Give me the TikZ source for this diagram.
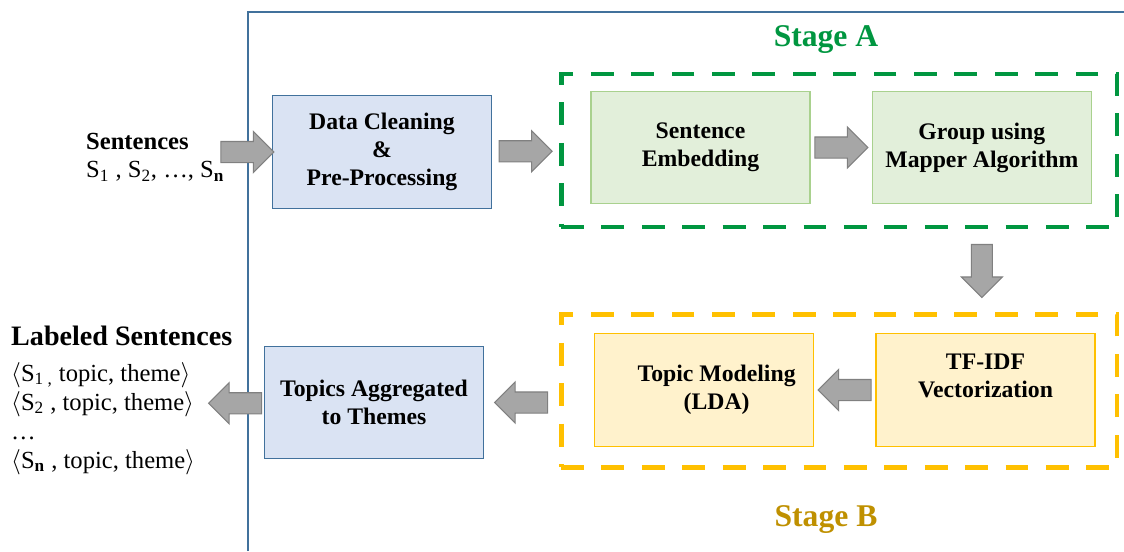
\documentclass[tikz,border=0pt]{standalone}
\usepackage{fontspec}
\setmainfont{Liberation Serif}
\usepackage{tikz}
\usetikzlibrary{shapes.arrows,positioning,calc}
\definecolor{framecolor}{RGB}{65,113,156}
\definecolor{cleanfill}{RGB}{218,227,243}
\definecolor{stageAcolor}{RGB}{0,150,64}
\definecolor{stageAfill}{RGB}{226,239,218}
\definecolor{stageAdraw}{RGB}{169,209,142}
\definecolor{stageBcolor}{RGB}{255,192,0}
\definecolor{stageBfill}{RGB}{255,242,204}
\definecolor{stageBtext}{RGB}{191,144,0}
\definecolor{arrowfill}{RGB}{166,166,166}
\definecolor{arrowdraw}{RGB}{128,128,128}

\begin{document}
\begin{tikzpicture}[
        x=0.02cm, y=-0.02cm,
        box/.style={rectangle, minimum width=4.38cm, minimum height=2.25cm, align=center, font=\fontsize{13.5}{16}\selectfont\bfseries, line width=0.8pt},
        bluebox/.style={box, draw=framecolor, fill=cleanfill},
        greenbox/.style={box, draw=stageAdraw, fill=stageAfill},
        yellowbox/.style={box, draw=stageBcolor, fill=stageBfill},
        stagebox/.style={rectangle, minimum width=11.12cm, minimum height=3.06cm, line width=2.8pt, dash pattern=on 13pt off 10pt},
        stagelabel/.style={font=\fontsize{18}{20}\selectfont\bfseries},
        bigarrow/.style={single arrow, draw=arrowdraw, fill=arrowfill, line width=0.6pt, inner sep=0.2cm, minimum height=1.06cm, minimum width=0.8cm, single arrow head extend=0.2cm},
        toright/.style={bigarrow, xshift=-0.1cm},
        toleft/.style={bigarrow, shape border rotate=180, xshift=0.1cm},
        todown/.style={bigarrow, shape border rotate=270, yshift=0.1cm}
    ]
        \useasboundingbox (0,0) rectangle (1124,551);
        \draw[framecolor, line width=1.2pt] (248,551) |- (1124,12);

        \node[anchor=west, align=left, font=\fontsize{14}{16}\selectfont] (sent) at (80,157)
            {\textbf{Sentences}\\ S\textsubscript{1} , S\textsubscript{2}, \ldots, S\textsubscript{\textbf{n}}};
        \node[bluebox] (clean) at (382,152) {Data Cleaning\\ \&\\ Pre-Processing};

        \node[greenbox] (embed) at (700.5,147.5) {Sentence\\ Embedding};
        \node[greenbox, right=1.22cm of embed] (group) {Group using\\ Mapper Algorithm};
        \node[stagebox, draw=stageAcolor] (stageA) at (839,150.5) {};
        \node[stagelabel, stageAcolor] at (stageA.north) [xshift=-0.26cm, yshift=0.64cm] {Stage A};

        \node[yellowbox] (tfidf) at (985.5,390) {TF-IDF\\ Vectorization\\ \mbox{}};
        \node[yellowbox, left=1.22cm of tfidf] (topic) {\hspace*{0.5cm}Topic Modeling\\ \hspace*{0.5cm}(LDA)};
        \node[stagebox, draw=stageBcolor] (stageB) at (839,391) {};
        \node[stagelabel, stageBtext] at (stageB.south) [xshift=-0.26cm, yshift=-1cm] {Stage B};

        \node[bluebox] (agg) at (374,402.5) {Topics Aggregated\\ to Themes};
        \node[anchor=west, align=left, font=\fontsize{14}{16.5}\selectfont] (labeled) at (5,400)
            {{\fontsize{16}{18}\selectfont\bfseries Labeled Sentences}\\[4pt]
             $\langle$S\textsubscript{1 ,} topic, theme$\rangle$\\
             $\langle$S\textsubscript{2} , topic, theme$\rangle$\\
             \ldots\\
             $\langle$S\textsubscript{\textbf{n}} , topic, theme$\rangle$};
        \coordinate (out) at (207,404);

        % block arrows
        \path (sent.east |- clean.west) -- (clean.west) node[pos=0.4, toright] {};
        \path (clean.east) -- (stageA.west) node[midway, toright] {};
        \path (embed) -- (group) node[midway, toright] {};
        \path (stageA.south -| group) -- (stageB.north -| group) node[midway, todown] {};
        \path (tfidf) -- (topic) node[midway, toleft] {};
        \path (stageB.west |- agg) -- (agg.east) node[midway, toleft] {};
        \path (agg.west) -- (out) node[midway, toleft] {};
    \end{tikzpicture}
\end{document}
